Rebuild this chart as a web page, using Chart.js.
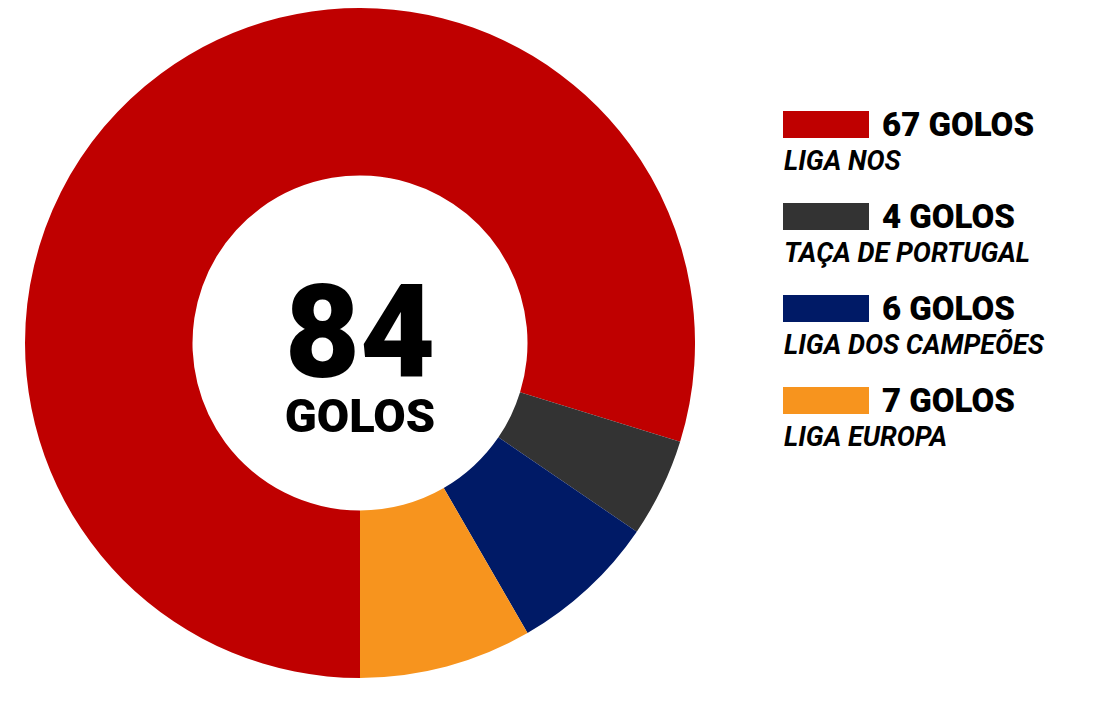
<!DOCTYPE html>
<html lang="pt">
<head>
  <meta charset="UTF-8">
  <title>84 golos</title>
  <script src="https://cdn.jsdelivr.net/npm/chart.js"></script>
  <style>
    body { margin: 0; background: #fff; font-family: Roboto, "Liberation Sans", sans-serif; }
    #wrap { position: absolute; left: 25px; top: 8px; width: 670px; height: 670px; }
    #center { position: absolute; left: 25px; top: 8px; width: 670px; height: 670px; pointer-events: none; }
    #total { position: absolute; left: 0; width: 670px; top: 260px; text-align: center; font-size: 130px; font-weight: 900; line-height: 1; color: #000; }
    #totalLabel { position: absolute; left: 0; width: 670px; top: 384px; text-align: center; font-size: 47px; font-weight: 900; line-height: 1; color: #000; }
    #legend { position: absolute; left: 782px; top: 100px; }
    .item { position: absolute; left: 0; width: 320px; height: 92px; }
    .box { position: absolute; left: 1px; top: 11px; width: 86px; height: 27px; }
    .num { position: absolute; left: 100px; top: 8px; font-size: 33px; font-weight: 900; line-height: 1; white-space: nowrap; }
    .name { position: absolute; left: 2px; top: 48px; font-size: 27px; font-weight: 700; font-style: italic; line-height: 1; white-space: nowrap; }
  </style>
</head>
<body>
<div id="wrap"><canvas id="myChart"></canvas></div>
<div id="center">
  <div id="total"></div>
  <div id="totalLabel">GOLOS</div>
</div>
<div id="legend"></div>

<script>
  // competições e golos
  var competitions = ['LIGA NOS', 'TAÇA DE PORTUGAL', 'LIGA DOS CAMPEÕES', 'LIGA EUROPA'];
  var goals = [67, 4, 6, 7];
  var colors = ['#bf0000', '#333333', '#001a66', '#f7941e'];

  var total = goals.reduce(function (a, b) { return a + b; }, 0);
  document.getElementById('total').textContent = total;

  // legenda à direita
  var legend = document.getElementById('legend');
  competitions.forEach(function (name, i) {
    var item = document.createElement('div');
    item.className = 'item';
    item.style.top = (i * 92) + 'px';
    item.innerHTML = '<div class="box" style="background:' + colors[i] + '"></div>' +
      '<div class="num">' + goals[i] + ' GOLOS</div>' +
      '<div class="name">' + name + '</div>';
    legend.appendChild(item);
  });

  var ctx = document.getElementById('myChart').getContext('2d');
  new Chart(ctx, {
    type: 'doughnut',
    data: {
      labels: competitions,
      datasets: [{
        data: goals,
        backgroundColor: colors,
        borderWidth: 0
      }]
    },
    options: {
      responsive: true,
      maintainAspectRatio: false,
      animation: false,
      rotation: 180,
      cutout: '50%',
      layout: { padding: 0 },
      plugins: {
        legend: { display: false },
        tooltip: { enabled: false }
      }
    }
  });
</script>
</body>
</html>
